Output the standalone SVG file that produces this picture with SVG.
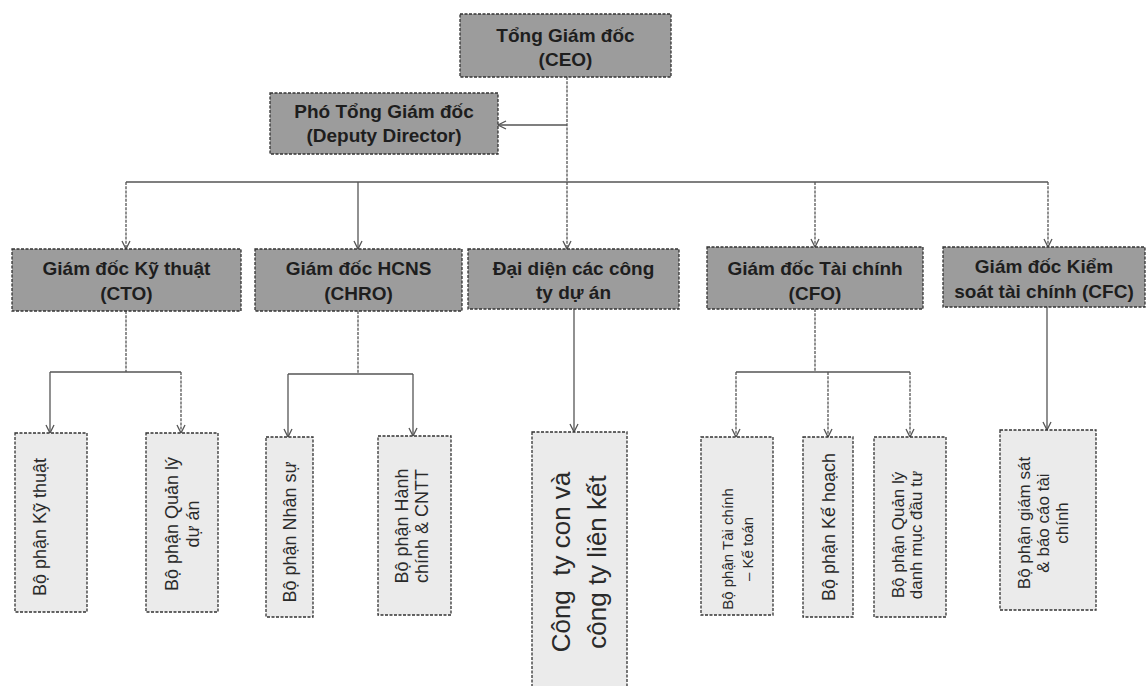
<svg xmlns="http://www.w3.org/2000/svg" width="1147" height="686" viewBox="0 0 1147 686">
<defs>
<marker id="arr" markerUnits="userSpaceOnUse" markerWidth="12" markerHeight="12" refX="9" refY="5" orient="auto">
<path d="M1,1 L9,5 L1,9" fill="none" stroke="#555" stroke-width="1.3"/>
</marker>
</defs>
<style>
.dir{fill:#9c9c9c;stroke:#333;stroke-width:1.3;stroke-dasharray:3 1.5}
.sub{fill:#ebebeb;stroke:#333;stroke-width:1.3;stroke-dasharray:3 1.5}
.dt{font-family:"Liberation Sans",Arial,sans-serif;font-size:19px;font-weight:bold;fill:#1e1e1e;text-anchor:middle}
.st{font-family:"Liberation Sans",Arial,sans-serif;fill:#2a2a2a;text-anchor:middle}
.ln{fill:none;stroke:#555;stroke-width:1.3}
.dl{fill:none;stroke:#555;stroke-width:1.3;stroke-dasharray:3 1.2}
</style>
<rect width="1147" height="686" fill="#ffffff"/>

<g id="connectors">
<path class="dl" d="M567,77 V249" marker-end="url(#arr)"/>
<path class="ln" d="M567,125 H498" marker-end="url(#arr)"/>
<path class="ln" d="M126,182 H1048"/>
<path class="dl" d="M126,182 V249" marker-end="url(#arr)"/>
<path class="ln" d="M358,182 V249" marker-end="url(#arr)"/>
<path class="dl" d="M815,182 V247" marker-end="url(#arr)"/>
<path class="dl" d="M1048,182 V247" marker-end="url(#arr)"/>
<path class="dl" d="M126,311 V372"/>
<path class="ln" d="M50,372 H181"/>
<path class="ln" d="M50,372 V433" marker-end="url(#arr)"/>
<path class="dl" d="M181,372 V433" marker-end="url(#arr)"/>
<path class="dl" d="M358,311 V374"/>
<path class="ln" d="M288,374 H413"/>
<path class="ln" d="M288,374 V437" marker-end="url(#arr)"/>
<path class="ln" d="M413,374 V436" marker-end="url(#arr)"/>
<path class="ln" d="M574,309 V432" marker-end="url(#arr)"/>
<path class="dl" d="M815,309 V372"/>
<path class="ln" d="M736,372 H910"/>
<path class="dl" d="M736,372 V437" marker-end="url(#arr)"/>
<path class="dl" d="M828,372 V437" marker-end="url(#arr)"/>
<path class="dl" d="M910,372 V437" marker-end="url(#arr)"/>
<path class="ln" d="M1047,307 V430" marker-end="url(#arr)"/>
</g>

<g id="ceo">
<rect class="dir" x="460" y="14" width="211" height="63"/>
<text class="dt" x="565.5" y="42">Tổng Giám đốc</text>
<text class="dt" x="565.5" y="66">(CEO)</text>
</g>

<g id="deputy">
<rect class="dir" x="270" y="93" width="228" height="61"/>
<text class="dt" x="384" y="118">Phó Tổng Giám đốc</text>
<text class="dt" x="384" y="142">(Deputy Director)</text>
</g>

<g id="cto">
<rect class="dir" x="12" y="249" width="229" height="62"/>
<text class="dt" x="126.5" y="275">Giám đốc Kỹ thuật</text>
<text class="dt" x="126.5" y="300">(CTO)</text>
</g>

<g id="chro">
<rect class="dir" x="255" y="249" width="207" height="62"/>
<text class="dt" x="358.5" y="275">Giám đốc HCNS</text>
<text class="dt" x="358.5" y="300">(CHRO)</text>
</g>

<g id="dai-dien">
<rect class="dir" x="468" y="249" width="211" height="60"/>
<text class="dt" x="573.5" y="275">Đại diện các công</text>
<text class="dt" x="573.5" y="299">ty dự án</text>
</g>

<g id="cfo">
<rect class="dir" x="707" y="247" width="216" height="62"/>
<text class="dt" x="815" y="275">Giám đốc Tài chính</text>
<text class="dt" x="815" y="300">(CFO)</text>
</g>

<g id="cfc">
<rect class="dir" x="943" y="247" width="202" height="60"/>
<text class="dt" x="1044" y="273">Giám đốc Kiểm</text>
<text class="dt" x="1044" y="298">soát tài chính (CFC)</text>
</g>

<g id="bp-ky-thuat">
<rect class="sub" x="15" y="433" width="72" height="179"/>
<text class="st" font-size="18" transform="translate(40,527) rotate(-90)" y="6">Bộ phận Kỹ thuật</text>
</g>

<g id="bp-quan-ly-du-an">
<rect class="sub" x="146" y="433" width="72" height="179"/>
<text class="st" font-size="18" transform="translate(182,524) rotate(-90)"><tspan x="0" y="-4">Bộ phận Quản lý</tspan><tspan x="0" y="17">dự án</tspan></text>
</g>

<g id="bp-nhan-su">
<rect class="sub" x="266" y="437" width="47" height="180"/>
<text class="st" font-size="18" transform="translate(290,532) rotate(-90)" y="6">Bộ phận Nhân sự</text>
</g>

<g id="bp-hanh-chinh">
<rect class="sub" x="378" y="436" width="73" height="179"/>
<text class="st" font-size="18" transform="translate(412,526) rotate(-90)"><tspan x="0" y="-4">Bộ phận Hành</tspan><tspan x="0" y="16">chính &amp; CNTT</tspan></text>
</g>

<g id="cong-ty-con">
<rect class="sub" x="532" y="432" width="95" height="262"/>
<text class="st" font-size="26" transform="translate(580,562) rotate(-90)" xml:space="preserve"><tspan x="0" y="-10">Công  ty con và</tspan><tspan x="0" y="26">công ty liên kết</tspan></text>
</g>

<g id="bp-tai-chinh">
<rect class="sub" x="701" y="437" width="72" height="178"/>
<text class="st" font-size="15" transform="translate(743,549) rotate(-90)"><tspan x="0" y="-10">Bộ phận Tài chính</tspan><tspan x="0" y="10">– Kế toán</tspan></text>
</g>

<g id="bp-ke-hoach">
<rect class="sub" x="803" y="437" width="50" height="180"/>
<text class="st" font-size="18" transform="translate(829,527) rotate(-90)" y="6">Bộ phận Kế hoạch</text>
</g>

<g id="bp-danh-muc">
<rect class="sub" x="874" y="437" width="72" height="180"/>
<text class="st" font-size="17" transform="translate(913,535) rotate(-90)"><tspan x="0" y="-9">Bộ phận Quản lý</tspan><tspan x="0" y="9">danh mục đầu tư</tspan></text>
</g>

<g id="bp-giam-sat">
<rect class="sub" x="1000" y="430" width="96" height="180"/>
<text class="st" font-size="17" transform="translate(1048,523) rotate(-90)"><tspan x="0" y="-18">Bộ phận giám sát</tspan><tspan x="0" y="1">&amp; báo cáo tài</tspan><tspan x="0" y="20">chính</tspan></text>
</g>
</svg>
